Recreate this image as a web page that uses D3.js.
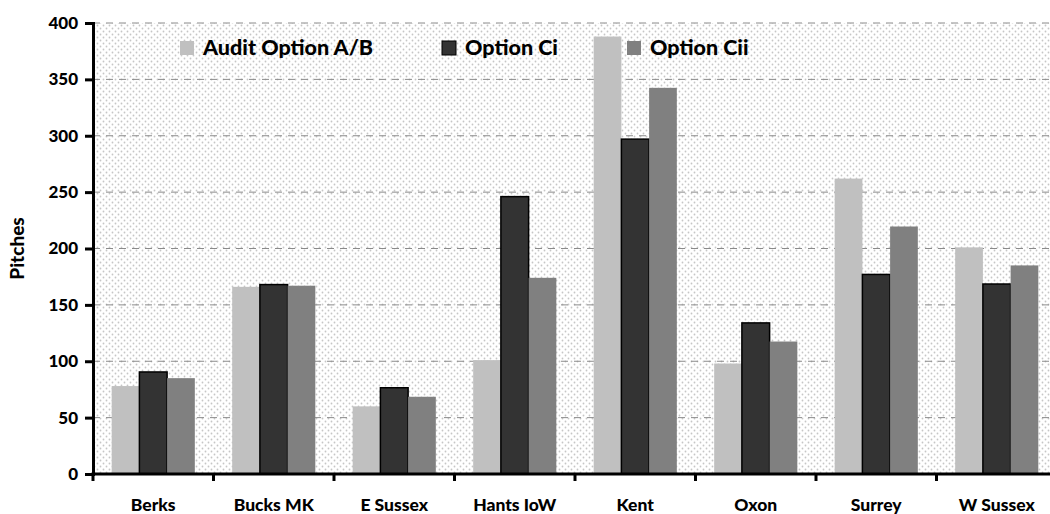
<!DOCTYPE html>
<html>
<head>
<meta charset="utf-8">
<script src="https://cdn.jsdelivr.net/npm/d3@7"></script>
<style>
  body { margin: 0; background: #fff; }
  svg { display: block; }
  text { font-family: Lato, "DejaVu Sans", sans-serif; font-weight: 900; fill: #000; }
</style>
</head>
<body>
<svg width="1050" height="514"></svg>
<script>
// ---------- data ----------
var regions = ["Berks", "Bucks MK", "E Sussex", "Hants IoW", "Kent", "Oxon", "Surrey", "W Sussex"];
var seriesNames = ["Audit Option A/B", "Option Ci", "Option Cii"];
var auditAB = [78, 166, 60, 101, 388, 98, 262, 201];
var optionCi = [90.5, 168, 76.5, 246, 297, 134, 177, 168.5];
var optionCii = [85, 167, 68.5, 174, 342.5, 117.5, 219.5, 185];
var yTicks = [0, 50, 100, 150, 200, 250, 300, 350, 400];

var seriesValues = [auditAB, optionCi, optionCii];
var seriesColors = ["#c0c0c0", "#333333", "#808080"];

var svg = d3.select("svg");

// layout
var plot = {l: 93, t: 23, r: 1057, b: 474};

// dotted background
var defs = svg.append("defs");
var pat = defs.append("pattern")
    .attr("id", "dots")
    .attr("patternUnits", "userSpaceOnUse")
    .attr("width", 6).attr("height", 6);
pat.append("rect").attr("width", 6).attr("height", 6).attr("fill", "#ffffff");
pat.append("circle").attr("cx", 1.5).attr("cy", 1.5).attr("r", 0.9).attr("fill", "#c6c6c6");
pat.append("circle").attr("cx", 4.5).attr("cy", 4.5).attr("r", 0.9).attr("fill", "#c6c6c6");

svg.append("rect")
    .attr("x", plot.l).attr("y", plot.t)
    .attr("width", plot.r - plot.l).attr("height", plot.b - plot.t)
    .attr("fill", "url(#dots)");

// scales
var x0 = d3.scaleBand().domain(regions).range([plot.l, plot.r]).padding(0);
var x1 = d3.scaleBand().domain(seriesNames)
    .range([x0.bandwidth() * 0.155, x0.bandwidth() * 0.845]).padding(0);
var y = d3.scaleLinear().domain([0, 400]).range([plot.b, plot.t]);

// grid lines
svg.append("g").selectAll("line")
    .data(yTicks.filter(function(d) { return d > 0; }))
    .enter().append("line")
    .attr("x1", plot.l).attr("x2", plot.r)
    .attr("y1", function(d) { return y(d); })
    .attr("y2", function(d) { return y(d); })
    .attr("stroke", "#8a8a8a")
    .attr("stroke-width", 1)
    .attr("stroke-dasharray", "7,6");

// bars
var rows = regions.map(function(r, i) {
    return seriesNames.map(function(s, j) { return {region: r, series: s, idx: j, value: seriesValues[j][i]}; });
});
var groups = svg.append("g").selectAll("g")
    .data(rows).enter().append("g")
    .attr("transform", function(d, i) { return "translate(" + x0(regions[i]) + ",0)"; });
groups.selectAll("rect")
    .data(function(d) { return d; })
    .enter().append("rect")
    .attr("x", function(d) { return x1(d.series); })
    .attr("y", function(d) { return y(d.value); })
    .attr("width", x1.bandwidth())
    .attr("height", function(d) { return y(0) - y(d.value); })
    .attr("fill", function(d) { return seriesColors[d.idx]; })
    .attr("stroke", function(d) { return d.idx == 1 ? "#000" : "none"; })
    .attr("stroke-width", 1.5);

// y axis
var yAxis = svg.append("g")
    .attr("transform", "translate(" + plot.l + ",0)")
    .call(d3.axisLeft(y).tickValues(yTicks).tickSize(8).tickPadding(7));
yAxis.select(".domain").attr("stroke", "#000").attr("stroke-width", 3);
yAxis.selectAll(".tick line").attr("stroke", "#000").attr("stroke-width", 3);
yAxis.selectAll(".tick text").style("font-size", "17px").style("font-family", "Lato, sans-serif").style("font-weight", "900");

// x axis
var xAxisG = svg.append("g").attr("transform", "translate(0," + plot.b + ")");
xAxisG.append("line")
    .attr("x1", plot.l - 1.5).attr("x2", plot.r)
    .attr("stroke", "#000").attr("stroke-width", 3);
xAxisG.selectAll(".xtick")
    .data(regions).enter().append("line")
    .attr("x1", function(d) { return x0(d); })
    .attr("x2", function(d) { return x0(d); })
    .attr("y1", 0).attr("y2", 7)
    .attr("stroke", "#000").attr("stroke-width", 3);
xAxisG.selectAll(".xlabel")
    .data(regions).enter().append("text")
    .attr("x", function(d) { return x0(d) + x0.bandwidth() / 2; })
    .attr("y", 37)
    .attr("text-anchor", "middle")
    .style("font-size", "17.5px")
    .text(function(d) { return d; });

// y axis title
svg.append("text")
    .attr("transform", "translate(24," + ((plot.t + plot.b) / 2) + ") rotate(-90)")
    .attr("text-anchor", "middle")
    .style("font-size", "19px")
    .text("Pitches");

// legend
var legendX = [180, 442, 627];
var legend = svg.append("g").selectAll("g")
    .data(seriesNames).enter().append("g")
    .attr("transform", function(d, i) { return "translate(" + legendX[i] + ",41)"; });
legend.append("rect")
    .attr("width", 14).attr("height", 14)
    .attr("fill", function(d, i) { return seriesColors[i]; })
    .attr("stroke", function(d, i) { return i == 1 ? "#000" : "none"; })
    .attr("stroke-width", 1);
legend.append("text")
    .attr("x", 23).attr("y", 14)
    .style("font-size", "21.5px")
    .text(function(d) { return d; });
</script>
</body>
</html>
